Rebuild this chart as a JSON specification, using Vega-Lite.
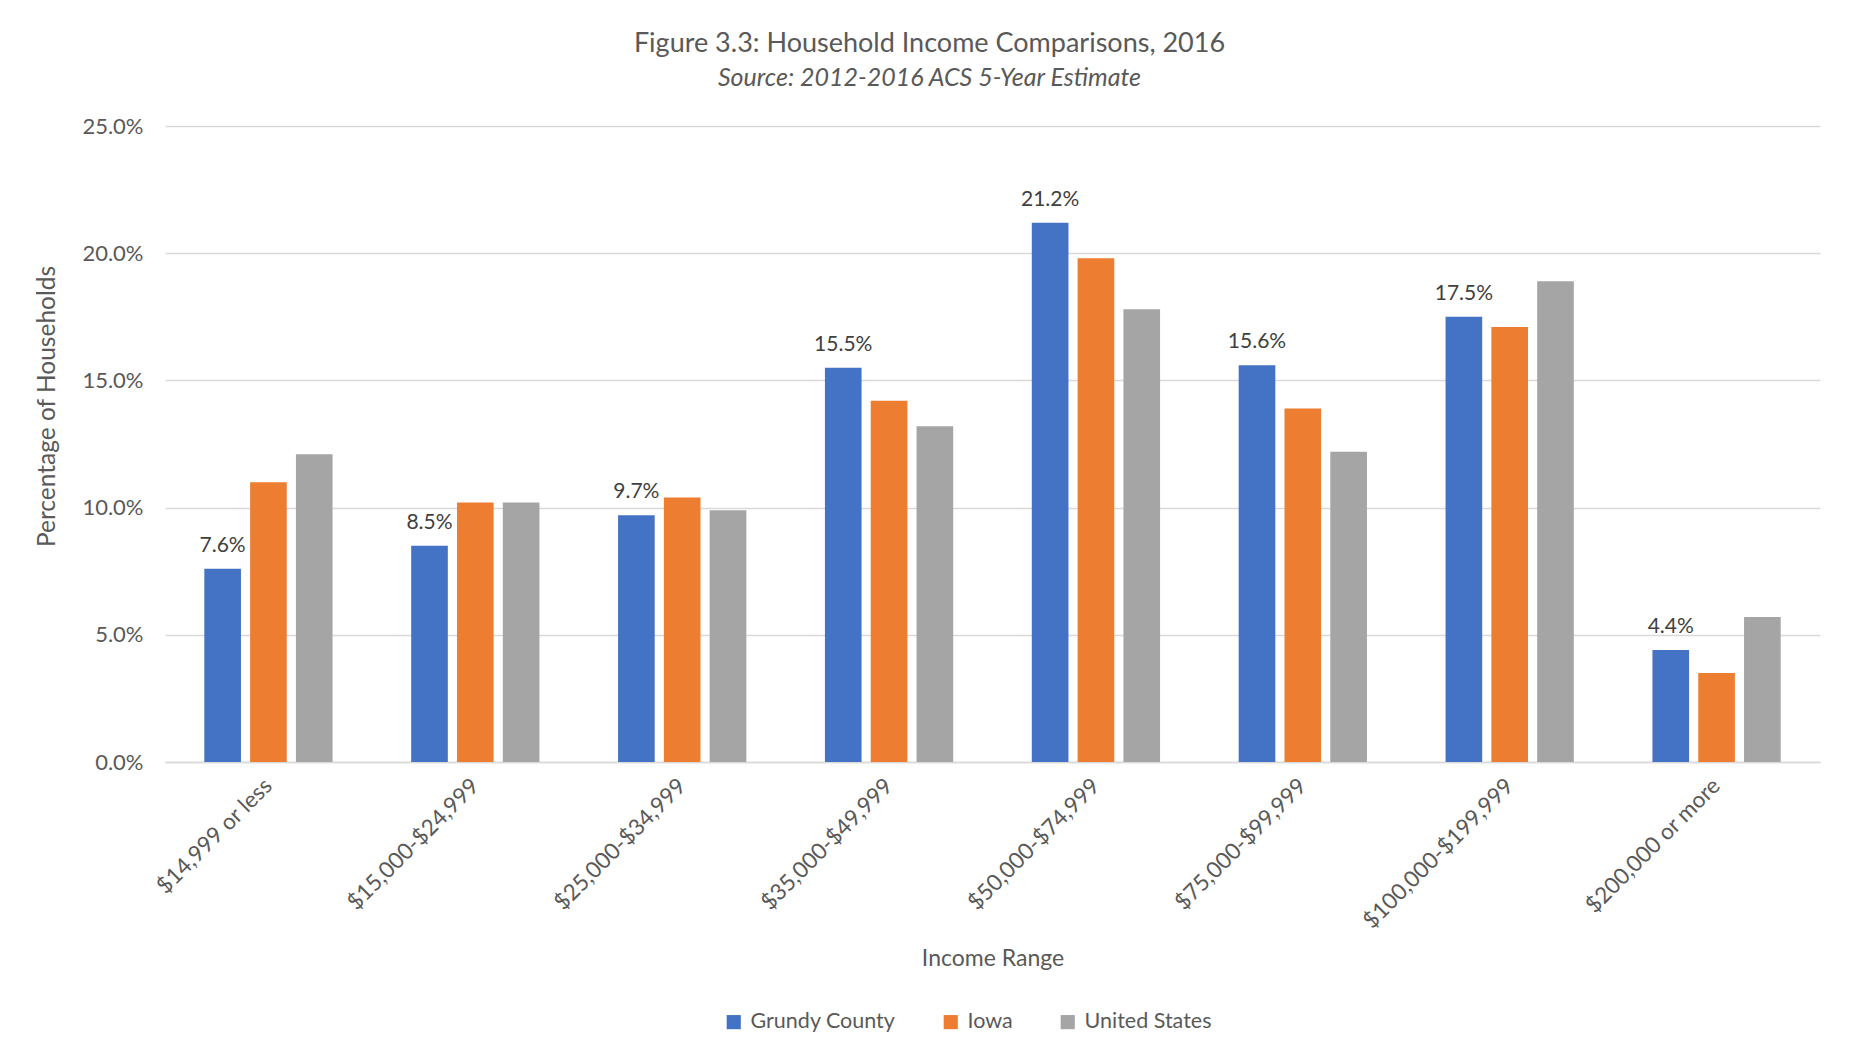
{
  "$schema": "https://vega.github.io/schema/vega-lite/v6.json",
  "width": 1655,
  "height": 636,
  "autosize": {"type": "none"},
  "padding": {"left": 165, "top": 126, "right": 33, "bottom": 301},
  "background": "white",
  "config": {"font": "Lato", "view": {"stroke": null}},
  "title": {
    "text": "Figure 3.3: Household Income Comparisons, 2016",
    "subtitle": "Source: 2012-2016 ACS 5-Year Estimate",
    "fontSize": 27,
    "fontWeight": "normal",
    "color": "#595959",
    "subtitleFontSize": 25,
    "subtitleFontStyle": "italic",
    "subtitleColor": "#595959",
    "anchor": "middle",
    "dx": -63,
    "offset": 23,
    "subtitlePadding": 8
  },
  "data": {
    "values": [
      {"range": "$14,999 or less", "area": "Grundy County", "pct": 0.076},
      {"range": "$14,999 or less", "area": "Iowa", "pct": 0.110},
      {"range": "$14,999 or less", "area": "United States", "pct": 0.121},
      {"range": "$15,000-$24,999", "area": "Grundy County", "pct": 0.085},
      {"range": "$15,000-$24,999", "area": "Iowa", "pct": 0.102},
      {"range": "$15,000-$24,999", "area": "United States", "pct": 0.102},
      {"range": "$25,000-$34,999", "area": "Grundy County", "pct": 0.097},
      {"range": "$25,000-$34,999", "area": "Iowa", "pct": 0.104},
      {"range": "$25,000-$34,999", "area": "United States", "pct": 0.099},
      {"range": "$35,000-$49,999", "area": "Grundy County", "pct": 0.155},
      {"range": "$35,000-$49,999", "area": "Iowa", "pct": 0.142},
      {"range": "$35,000-$49,999", "area": "United States", "pct": 0.132},
      {"range": "$50,000-$74,999", "area": "Grundy County", "pct": 0.212},
      {"range": "$50,000-$74,999", "area": "Iowa", "pct": 0.198},
      {"range": "$50,000-$74,999", "area": "United States", "pct": 0.178},
      {"range": "$75,000-$99,999", "area": "Grundy County", "pct": 0.156},
      {"range": "$75,000-$99,999", "area": "Iowa", "pct": 0.139},
      {"range": "$75,000-$99,999", "area": "United States", "pct": 0.122},
      {"range": "$100,000-$199,999", "area": "Grundy County", "pct": 0.175},
      {"range": "$100,000-$199,999", "area": "Iowa", "pct": 0.171},
      {"range": "$100,000-$199,999", "area": "United States", "pct": 0.189},
      {"range": "$200,000 or more", "area": "Grundy County", "pct": 0.044},
      {"range": "$200,000 or more", "area": "Iowa", "pct": 0.035},
      {"range": "$200,000 or more", "area": "United States", "pct": 0.057}
    ]
  },
  "encoding": {
    "x": {
      "field": "range",
      "type": "nominal",
      "sort": null,
      "scale": {"paddingInner": 0.38, "paddingOuter": 0.19},
      "axis": {
        "title": "Income Range",
        "labelAngle": -45,
        "labelAlign": "right",
        "labelBaseline": "middle",
        "labelFontSize": 22.5,
        "labelColor": "#595959",
        "labelPadding": 20,
        "labelLimit": 400,
        "ticks": false,
        "domain": true,
        "domainColor": "#D9D9D9",
        "domainWidth": 1.5,
        "titleFontSize": 23,
        "titleFontWeight": "normal",
        "titleColor": "#595959",
        "titleBaseline": "middle",
        "titleY": 196
      }
    },
    "xOffset": {
      "field": "area",
      "type": "nominal",
      "scale": {"domain": ["Grundy County", "Iowa", "United States"], "paddingInner": 0.2, "paddingOuter": 0}
    },
    "y": {
      "field": "pct",
      "type": "quantitative",
      "scale": {"domain": [0, 0.25]},
      "axis": {
        "title": "Percentage of Households",
        "format": ".1%",
        "values": [0, 0.05, 0.1, 0.15, 0.2, 0.25],
        "domain": false,
        "ticks": false,
        "gridColor": "#D9D9D9",
        "gridWidth": 1.5,
        "labelFontSize": 22,
        "labelColor": "#595959",
        "labelPadding": 22,
        "titleFontSize": 24.5,
        "titleFontWeight": "normal",
        "titleColor": "#595959",
        "titlePadding": 22,
        "titleY": 280
      }
    }
  },
  "layer": [
    {
      "mark": {"type": "bar"},
      "encoding": {
        "color": {
          "field": "area",
          "type": "nominal",
          "scale": {"domain": ["Grundy County", "Iowa", "United States"], "range": ["#4472C4", "#ED7D31", "#A5A5A5"]},
          "legend": {
            "orient": "none",
            "legendX": 558,
            "legendY": 885,
            "direction": "horizontal",
            "title": null,
            "symbolType": "square",
            "symbolSize": 200,
            "symbolStrokeWidth": 0,
            "labelFontSize": 21.5,
            "labelColor": "#595959",
            "labelOffset": 6,
            "columnPadding": 44
          }
        }
      }
    },
    {
      "transform": [{"filter": "datum.area === 'Grundy County'"}],
      "mark": {"type": "text", "baseline": "bottom", "dy": -13, "fontSize": 21, "color": "#404040"},
      "encoding": {"text": {"field": "pct", "type": "quantitative", "format": ".1%"}}
    }
  ]
}
